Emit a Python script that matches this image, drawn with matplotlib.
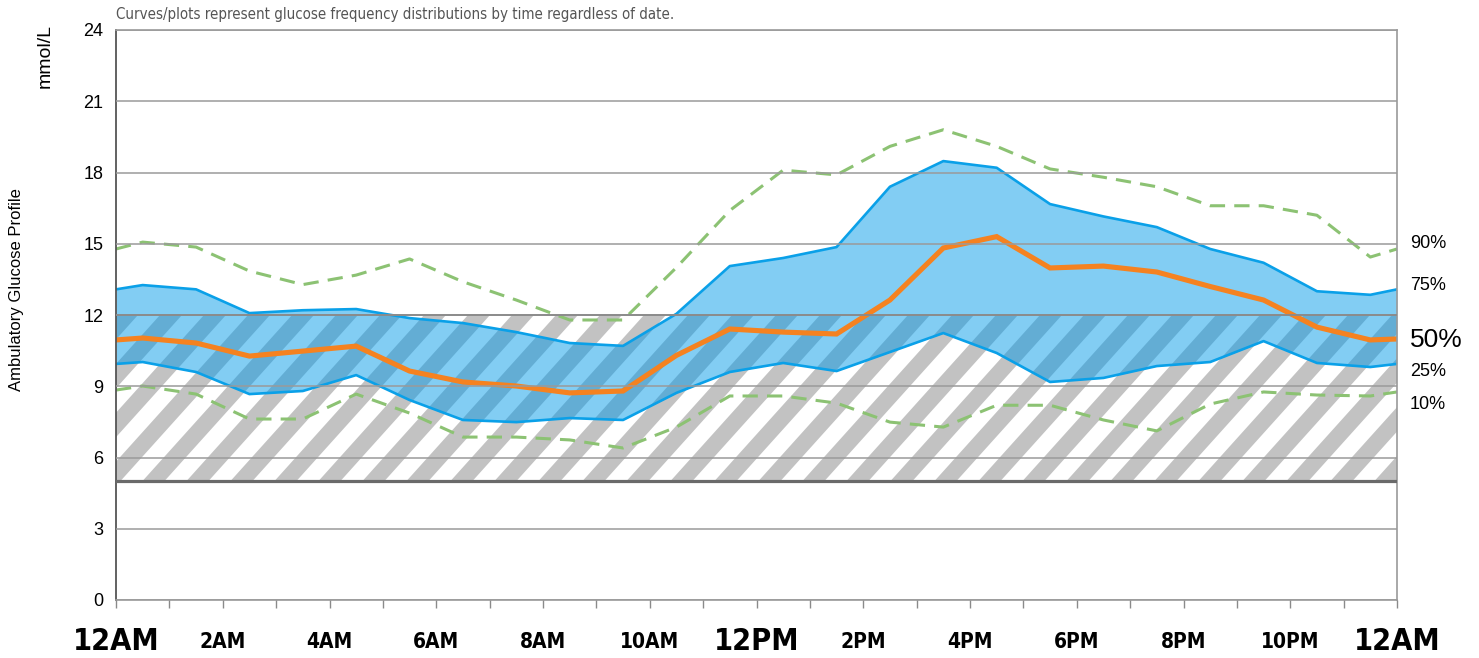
import matplotlib
matplotlib.use('Agg')
import matplotlib.pyplot as plt
import numpy as np
from matplotlib.patches import Polygon, Rectangle
from matplotlib import font_manager

# Perfil ambulatorio de glucosa - percentis por hora do dia
horas = [0, 0.5, 1.5, 2.5, 3.5, 4.5, 5.5, 6.5, 7.5, 8.5, 9.5, 10.5, 11.5,
         12.5, 13.5, 14.5, 15.5, 16.5, 17.5, 18.5, 19.5, 20.5, 21.5, 22.5, 23.5, 24]

p90 = [14.78, 15.07, 14.86, 13.85, 13.28, 13.68, 14.36, 13.4, 12.63, 11.79, 11.79, 14.0, 16.4,
       18.1, 17.9, 19.1, 19.8, 19.1, 18.15, 17.8, 17.4, 16.6, 16.6, 16.2, 14.44, 14.78]
p75 = [13.08, 13.26, 13.08, 12.08, 12.2, 12.25, 11.87, 11.66, 11.28, 10.82, 10.7, 12.05, 14.06,
       14.4, 14.86, 17.4, 18.48, 18.2, 16.67, 16.15, 15.7, 14.78, 14.2, 13.0, 12.85, 13.08]
p50 = [10.95, 11.03, 10.82, 10.27, 10.48, 10.69, 9.64, 9.18, 9.01, 8.72, 8.8, 10.3, 11.41,
       11.28, 11.2, 12.63, 14.82, 15.3, 13.98, 14.06, 13.81, 13.2, 12.63, 11.49, 10.95, 10.99]
p25 = [9.94, 10.02, 9.6, 8.67, 8.8, 9.47, 8.42, 7.58, 7.49, 7.66, 7.58, 8.72, 9.6,
       9.98, 9.64, 10.44, 11.24, 10.4, 9.18, 9.35, 9.85, 10.02, 10.9, 9.98, 9.81, 9.94]
p10 = [8.84, 9.01, 8.67, 7.62, 7.62, 8.67, 7.87, 6.86, 6.86, 6.74, 6.4, 7.28, 8.59,
       8.59, 8.29, 7.49, 7.28, 8.2, 8.2, 7.58, 7.12, 8.25, 8.76, 8.63, 8.59, 8.76]

alvo_min = 5
alvo_max = 12

xticks_pos = [0, 2, 4, 6, 8, 10, 12, 14, 16, 18, 20, 22, 24]
xticks_lab = ['12AM', '2AM', '4AM', '6AM', '8AM', '10AM', '12PM',
              '2PM', '4PM', '6PM', '8PM', '10PM', '12AM']
yticks_pos = [0, 3, 6, 9, 12, 15, 18, 21, 24]
rotulos_pct = ['90%', '75%', '50%', '25%', '10%']

# fonte estreita se houver
nomes = set(f.name for f in font_manager.fontManager.ttflist)
if 'Liberation Sans Narrow' in nomes:
    narrow = ['Liberation Sans Narrow']
    estica = 'normal'
else:
    narrow = ['DejaVu Sans']
    estica = 'condensed'

plt.rcParams['font.family'] = ['Liberation Sans', 'DejaVu Sans']

fig = plt.figure(figsize=(14.79, 6.58), dpi=100)
ax = fig.add_axes([116 / 1479, 1 - 600 / 658, 1281 / 1479, 570 / 658])
ax.set_xlim(0, 24)
ax.set_ylim(0, 24)

# faixa alvo listrada (desenhada antes do azul)
px_h = 1281 / 24
py_u = 570 / 24
periodo = 44 / px_h
desloc = (py_u / np.tan(np.radians(48))) / px_h
altura = alvo_max - alvo_min
clip = Rectangle((0, alvo_min), 24, altura, transform=ax.transData)
x0 = -altura * desloc - periodo
while x0 < 24 + periodo:
    faixa = Polygon([(x0, alvo_min), (x0 + periodo / 2, alvo_min),
                     (x0 + periodo / 2 + altura * desloc, alvo_max),
                     (x0 + altura * desloc, alvo_max)],
                    closed=True, facecolor='#c2c2c2', edgecolor='none', zorder=1)
    ax.add_patch(faixa)
    faixa.set_clip_path(clip)
    x0 += periodo

# banda 25-75
ax.fill_between(horas, p25, p75, color='#0099e8', alpha=0.49, linewidth=0, zorder=1.5)
ax.plot(horas, p75, color='#0aa0e8', lw=1.9, zorder=2)
ax.plot(horas, p25, color='#0aa0e8', lw=1.9, zorder=2)
ax.plot(horas, p90, color='#8cc273', lw=2.2, dashes=(5, 3), zorder=2)
ax.plot(horas, p10, color='#8cc273', lw=2.2, dashes=(5, 3), zorder=2)
ax.plot(horas, p50, color='#f58220', lw=3.7, zorder=2.2, solid_joinstyle='miter')

ax.axhline(alvo_min, color='#6a6a6a', lw=2.3, zorder=3)
ax.axhline(alvo_max, color='#8a8a8a', lw=1.3, zorder=3)

# grade por cima
ax.set_axisbelow(False)
ax.yaxis.grid(True, color='#9a9a9a', lw=1.1)
ax.set_yticks(yticks_pos)
ax.set_yticklabels([str(v) for v in yticks_pos], fontsize=13)
ax.tick_params(axis='y', length=0, pad=9)

ax.set_xticks(xticks_pos)
ax.set_xticks(range(0, 25), minor=True)
ax.set_xticklabels(xticks_lab)
ax.tick_params(axis='x', which='both', direction='out', length=6, width=1,
               color='#8a8a8a', pad=24)
for lab in ax.get_xticklabels():
    lab.set_family(narrow)
    lab.set_stretch(estica)
    lab.set_fontweight('bold')
    lab.set_verticalalignment('center')
    if lab.get_text() in ('12AM', '12PM'):
        lab.set_fontsize(22)
    else:
        lab.set_fontsize(15)

for lado in ['top', 'right', 'bottom']:
    ax.spines[lado].set_color('#9a9a9a')
    ax.spines[lado].set_linewidth(1.2)
ax.spines['left'].set_color('#555555')
ax.spines['left'].set_linewidth(1.3)

# rotulos dos percentis a direita
pos_rot = [15.03, 13.26, 10.95, 9.64, 8.25]
for txt, yy in zip(rotulos_pct, pos_rot):
    ax.text(24.24, yy, txt, fontsize=19 if txt == '50%' else 13,
            va='center', ha='left', clip_on=False)

fig.text(116 / 1479, 1 - 14 / 658,
         'Curves/plots represent glucose frequency distributions by time regardless of date.',
         family=narrow, stretch=estica, fontsize=10.8, color='#555555', va='center', ha='left')
fig.text(45 / 1479, 1 - 56 / 658, 'mmol/L', rotation=90, fontsize=14,
         va='center', ha='center')
fig.text(17 / 1479, 1 - 290 / 658, 'Ambulatory Glucose Profile', rotation=90,
         fontsize=12, va='center', ha='center')

plt.savefig('out.png', dpi=100)
